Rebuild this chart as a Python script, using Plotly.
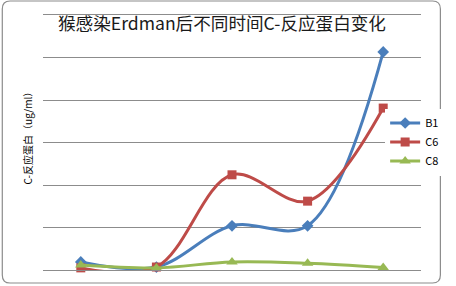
import plotly.graph_objects as go

# Sampling times (category positions) and C-reactive protein readings per animal
times = [1, 2, 3, 4, 5]
b1 = [0.19, 0.07, 1.04, 1.04, 5.13]
c6 = [0.05, 0.07, 2.24, 1.62, 3.81]
c8 = [0.12, 0.05, 0.19, 0.16, 0.06]

series = [
    ("B1", b1, "#4A7EBB", "diamond", 9),
    ("C6", c6, "#BE4B48", "square", 9),
    ("C8", c8, "#98B954", "triangle-up", 10),
]

fig = go.Figure()
for name, vals, color, symbol, msize in series:
    fig.add_trace(go.Scatter(
        x=times, y=vals, name=name, mode="lines+markers",
        line=dict(color=color, width=3, shape="spline", smoothing=1.0),
        marker=dict(symbol=symbol, size=msize, color=color),
        cliponaxis=False,
    ))

# plot area in pixels
L, R, T, B = 43, 23, 15, 16
W, H = 456, 286
pw, ph = W - L - R, H - T - B

def px(x):
    return (x - L) / pw

def py(y):
    return (H - B - y) / ph

# rounded outer frame of the chart
x0, x1, y0, y1, r = 1, 453, 1, 283, 8
path = (
    f"M {px(x0 + r)},{py(y0)} L {px(x1 - r)},{py(y0)} "
    f"Q {px(x1)},{py(y0)} {px(x1)},{py(y0 + r)} "
    f"L {px(x1)},{py(y1 - r)} Q {px(x1)},{py(y1)} {px(x1 - r)},{py(y1)} "
    f"L {px(x0 + r)},{py(y1)} Q {px(x0)},{py(y1)} {px(x0)},{py(y1 - r)} "
    f"L {px(x0)},{py(y0 + r)} Q {px(x0)},{py(y0)} {px(x0 + r)},{py(y0)} Z"
)

GRID = "#8C8C8C"

fig.update_layout(
    width=W, height=H,
    margin=dict(l=L, r=R, t=T, b=B),
    paper_bgcolor="white", plot_bgcolor="white",
    font=dict(family="Noto Sans CJK SC", color="#000000"),
    showlegend=True,
    legend=dict(
        x=px(396), y=py(142), xanchor="left", yanchor="middle",
        bgcolor="white", font=dict(size=11, color="#000000"),
        itemwidth=30, tracegroupgap=0,
    ),
    # x-axis line and its mirror form the bottom and top grid lines
    xaxis=dict(range=[0.5, 5.5], showgrid=False, showticklabels=False,
               zeroline=False, showline=True, mirror=True,
               linecolor=GRID, linewidth=1, ticks=""),
    yaxis=dict(range=[0, 6], tick0=0, dtick=1, showgrid=True,
               gridcolor=GRID, gridwidth=1, showticklabels=False,
               zeroline=False, showline=False, ticks=""),
    shapes=[dict(type="path", path=path, xref="paper", yref="paper",
                 line=dict(color=GRID, width=1.2), layer="below")],
    annotations=[
        dict(text="猴感染Erdman后不同时间C-反应蛋白变化",
             x=px(228), y=py(22), xref="paper", yref="paper",
             xanchor="center", yanchor="middle", showarrow=False,
             font=dict(size=17.6, color="#1a1a1a")),
        dict(text="C-反应蛋白（ug/ml）", textangle=-90,
             x=px(27), y=py(135), xref="paper", yref="paper",
             xanchor="center", yanchor="middle", showarrow=False,
             font=dict(size=10, color="#000000")),
    ],
)

fig.write_html("out.html")
